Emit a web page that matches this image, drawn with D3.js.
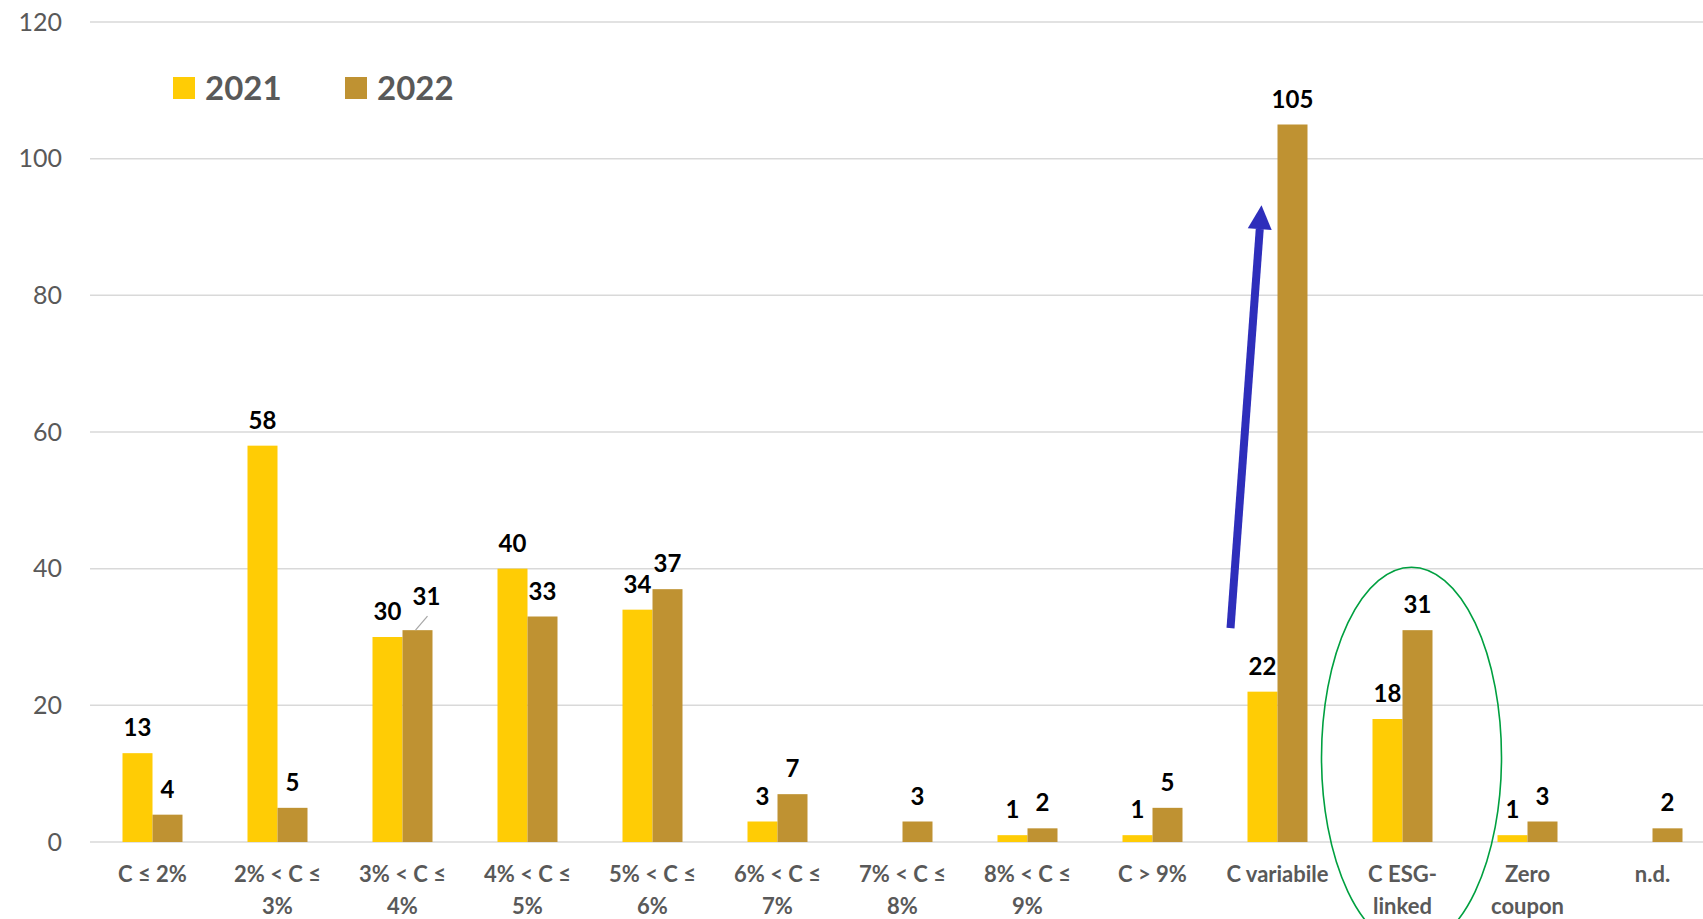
<!DOCTYPE html>
<html>
<head>
<meta charset="utf-8">
<script src="https://cdn.jsdelivr.net/npm/d3@7"></script>
<style>
  body { margin: 0; background: #fff; overflow: hidden; }
  text { font-family: Lato, "Open Sans", sans-serif; }
</style>
</head>
<body>
<script>
// categories (coupon classes) and the two years
var categories = ["C ≤ 2%", "2% < C ≤ 3%", "3% < C ≤ 4%", "4% < C ≤ 5%", "5% < C ≤ 6%",
                  "6% < C ≤ 7%", "7% < C ≤ 8%", "8% < C ≤ 9%", "C > 9%", "C variabile",
                  "C ESG-linked", "Zero coupon", "n.d."];
// tick labels as they wrap under the axis
var tickLines = [["C ≤ 2%"], ["2% < C ≤", "3%"], ["3% < C ≤", "4%"], ["4% < C ≤", "5%"],
                 ["5% < C ≤", "6%"], ["6% < C ≤", "7%"], ["7% < C ≤", "8%"], ["8% < C ≤", "9%"],
                 ["C > 9%"], ["C variabile"], ["C ESG-", "linked"], ["Zero", "coupon"], ["n.d."]];
var years = ["2021", "2022"];
var values2021 = [13, 58, 30, 40, 34, 3, null, 1, 1, 22, 18, 1, null];
var values2022 = [4, 5, 31, 33, 37, 7, 3, 2, 5, 105, 31, 3, 2];
var yTicks = [0, 20, 40, 60, 80, 100, 120];

var colors = {"2021": "#FFCC05", "2022": "#BF9232"};
var W = 1703, H = 919;

var data = categories.map(function(c, i) {
    return {cat: c, vals: [{year: "2021", v: values2021[i]}, {year: "2022", v: values2022[i]}]};
});

var svg = d3.select("body").append("svg")
    .attr("width", W)
    .attr("height", H);

// scales: plot runs past the right edge, like the cropped original
var x0 = d3.scaleBand().domain(categories).range([90, 1715]).paddingInner(0.52).paddingOuter(0.26);
var x1 = d3.scaleBand().domain(years).range([0, x0.bandwidth()]);
var y = d3.scaleLinear().domain([0, 120]).range([842, 22]);

// gridlines
svg.append("g").selectAll("line")
    .data(yTicks)
    .enter().append("line")
    .attr("x1", 90).attr("x2", W)
    .attr("y1", function(d) { return y(d); })
    .attr("y2", function(d) { return y(d); })
    .style("stroke", "#d9d9d9")
    .style("stroke-width", 1.5);

// y axis labels
var yAxis = d3.axisLeft(y).tickValues(yTicks).tickSize(0).tickPadding(0);
var yg = svg.append("g")
    .attr("transform", "translate(62,0)")
    .call(yAxis);
yg.select(".domain").remove();
yg.selectAll("text")
    .style("font-family", "Lato, sans-serif")
    .style("font-size", "25px")
    .style("fill", "#595959");

// bars
var groups = svg.selectAll(".cat")
    .data(data)
    .enter().append("g")
    .attr("class", "cat")
    .attr("transform", function(d) { return "translate(" + x0(d.cat) + ",0)"; });

groups.selectAll("rect")
    .data(function(d) { return d.vals.filter(function(e) { return e.v !== null; }); })
    .enter().append("rect")
    .attr("x", function(d) { return x1(d.year); })
    .attr("width", x1.bandwidth())
    .attr("y", function(d) { return y(d.v); })
    .attr("height", function(d) { return y(0) - y(d.v); })
    .style("fill", function(d) { return colors[d.year]; });

// data labels (the 2022 label of 3%<C≤4% is nudged with a leader line)
groups.each(function(d, i) {
    var g = d3.select(this);
    d.vals.forEach(function(e) {
        if (e.v === null) return;
        var cx = x1(e.year) + x1.bandwidth() / 2;
        var dx = 0, dy = 0;
        if (i === 2 && e.year === "2022") {
            dx = 9; dy = -8;
            g.append("line")
                .attr("x1", x1(e.year) + 13).attr("y1", y(e.v))
                .attr("x2", cx + 10).attr("y2", y(e.v) - 14)
                .style("stroke", "#a6a6a6")
                .style("stroke-width", 1.2);
        }
        g.append("text")
            .attr("x", cx + dx)
            .attr("y", y(e.v) - 17 + dy)
            .attr("text-anchor", "middle")
            .style("font-size", "24px")
            .style("font-weight", "bold")
            .style("fill", "#000")
            .text(e.v);
    });
});

// category labels
groups.append("text")
    .attr("text-anchor", "middle")
    .attr("transform", "translate(" + x0.bandwidth() / 2 + ",0)")
    .style("font-size", "22px")
    .style("font-weight", "bold")
    .style("fill", "#595959")
    .selectAll("tspan")
    .data(function(d, i) { return tickLines[i]; })
    .enter().append("tspan")
    .attr("x", 0)
    .attr("y", function(d, j) { return 882 + j * 32; })
    .text(function(d) { return d; });

// legend
var legend = svg.selectAll(".legend")
    .data(years)
    .enter().append("g")
    .attr("class", "legend")
    .attr("transform", function(d, i) { return "translate(" + (173 + i * 172) + ",77)"; });

legend.append("rect")
    .attr("width", 22)
    .attr("height", 22)
    .style("fill", function(d) { return colors[d]; });

legend.append("text")
    .attr("x", 32)
    .attr("y", 23)
    .style("font-size", "33px")
    .style("font-weight", "bold")
    .style("fill", "#595959")
    .text(function(d) { return d; });

// blue arrow next to "C variabile"
var vx = x0("C variabile") + x0.bandwidth() / 2;
var ax1 = vx - 47, ay1 = y(31.3), ax2 = vx - 16, ay2 = y(93.2);
var ang = Math.atan2(ay2 - ay1, ax2 - ax1);
var headLen = 24, headHalf = 12;
var bx = ax2 - headLen * Math.cos(ang), by = ay2 - headLen * Math.sin(ang);
svg.append("line")
    .attr("x1", ax1).attr("y1", ay1)
    .attr("x2", bx).attr("y2", by)
    .style("stroke", "#2E2EBB")
    .style("stroke-width", 8);
svg.append("polygon")
    .attr("points", [
        [ax2, ay2],
        [bx + headHalf * Math.sin(ang), by - headHalf * Math.cos(ang)],
        [bx - headHalf * Math.sin(ang), by + headHalf * Math.cos(ang)]
    ].map(function(p) { return p.join(","); }).join(" "))
    .style("fill", "#2E2EBB");

// green ellipse round "C ESG-linked"
var ex = x0("C ESG-linked") + x0.bandwidth() / 2;
svg.append("ellipse")
    .attr("cx", ex + 9)
    .attr("cy", y(12.4))
    .attr("rx", 90)
    .attr("ry", y(0) - y(27.8))
    .style("fill", "none")
    .style("stroke", "#00A040")
    .style("stroke-width", 1.6);
</script>
</body>
</html>
